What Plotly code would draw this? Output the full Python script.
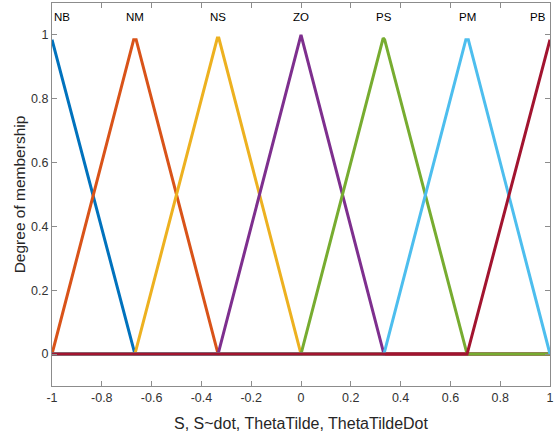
import plotly.graph_objects as go

names = ["NB", "NM", "NS", "ZO", "PS", "PM", "PB"]
colors = ["#0072BD", "#D95319", "#EDB120", "#7E2F8E", "#77AC30", "#4DBEEE", "#A2142F"]

# breakpoints of each membership function
x_NB = [-1.0, -0.667, 1.0]
y_NB = [0.985, 0.0, 0.0]
x_NM = [-1.0, -0.672, -0.662, -0.333, 1.0]
y_NM = [0.0, 0.985, 0.985, 0.0, 0.0]
x_NS = [-1.0, -0.667, -0.336, -0.330, 0.0, 1.0]
y_NS = [0.0, 0.0, 0.99, 0.99, 0.0, 0.0]
x_ZO = [-1.0, -0.333, 0.0, 0.333, 1.0]
y_ZO = [0.0, 0.0, 1.0, 0.0, 0.0]
x_PS = [-1.0, 0.0, 0.330, 0.336, 0.667, 1.0]
y_PS = [0.0, 0.0, 0.99, 0.985, 0.0, 0.0]
x_PM = [-1.0, 0.333, 0.662, 0.672, 1.0]
y_PM = [0.0, 0.0, 0.985, 0.985, 0.0]
x_PB = [-1.0, 0.667, 1.0]
y_PB = [0.0, 0.0, 0.985]

label_x = [-0.96, -0.667, -0.333, 0.0, 0.333, 0.667, 0.95]
label_y = 1.057

xs = [x_NB, x_NM, x_NS, x_ZO, x_PS, x_PM, x_PB]
ys = [y_NB, y_NM, y_NS, y_ZO, y_PS, y_PM, y_PB]

fig = go.Figure()
for n, c, x, y in zip(names, colors, xs, ys):
    fig.add_trace(go.Scatter(x=x, y=y, mode="lines", name=n,
                             line=dict(color=c, width=3), showlegend=False))

for n, lx in zip(names, label_x):
    fig.add_annotation(x=lx, y=label_y, text=n, showarrow=False,
                       font=dict(size=11.5, color="#000000"))

axis_common = dict(showline=True, linecolor="#8c8c8c", linewidth=1, mirror="ticks",
                   ticks="inside", ticklen=5, tickcolor="#8c8c8c", showgrid=False,
                   zeroline=False, automargin=False,
                   tickfont=dict(size=12.5, color="#333333"))

fig.update_xaxes(range=[-1, 1], tickvals=[-1, -0.8, -0.6, -0.4, -0.2, 0, 0.2, 0.4, 0.6, 0.8, 1],
                 ticktext=["-1", "-0.8", "-0.6", "-0.4", "-0.2", "0", "0.2", "0.4", "0.6", "0.8", "1"],
                 title=dict(text="S, S~dot, ThetaTilde, ThetaTildeDot", font=dict(size=16, color="#262626"), standoff=13),
                 **axis_common)
fig.update_yaxes(range=[-0.1, 1.1], tickvals=[0, 0.2, 0.4, 0.6, 0.8, 1],
                 ticktext=["0", "0.2", "0.4", "0.6", "0.8", "1"],
                 title=dict(text="Degree of membership", font=dict(size=15.5, color="#262626"), standoff=1),
                 **axis_common)

fig.update_layout(width=558, height=435, margin=dict(l=52, r=8, t=3, b=49),
                  plot_bgcolor="white", paper_bgcolor="white",
                  font=dict(family="Liberation Sans, Arial, sans-serif"))

fig.write_html("out.html", config={"displayModeBar": False},
               post_script="document.body.style.margin='0px';document.body.style.overflow='hidden';")
